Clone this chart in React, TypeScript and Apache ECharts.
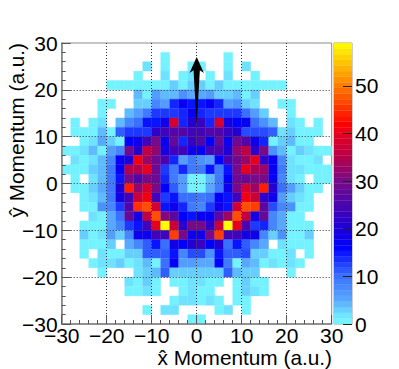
import React, { useEffect, useRef } from "react";
import * as echarts from "echarts";

const xBinLow = [-30,-28,-26,-24,-22,-20,-18,-16,-14,-12,-10,-8,-6,-4,-2,0,2,4,6,8,10,12,14,16,18,20,22,24,26,28];
const yBinLowTopDown = [28,26,24,22,20,18,16,14,12,10,8,6,4,2,0,-2,-4,-6,-8,-10,-12,-14,-16,-18,-20,-22,-24,-26,-28,-30];
const counts: number[][] = [
  [0,0,0,0,0,0,0,0,0,0,0,0,0,0,0,0,0,0,0,0,0,0,0,0,0,0,0,0,0,0],
  [0,0,0,0,0,0,0,0,0,0,0,1,0,0,0,0,0,0,1,0,0,0,0,0,0,0,0,0,0,0],
  [0,0,0,0,0,0,0,0,0,2,0,1,0,0,1,1,0,0,1,0,2,0,0,0,0,0,0,0,0,0],
  [0,0,0,0,0,0,0,0,1,0,0,2,0,1,2,0,1,0,2,0,0,1,0,0,0,0,0,0,0,0],
  [0,0,0,0,0,1,1,1,1,1,1,1,3,1,3,3,1,3,1,1,1,1,1,1,1,0,0,0,0,0],
  [0,0,0,0,0,0,0,0,4,1,6,4,4,7,5,5,6,3,3,4,1,3,0,0,0,0,0,0,0,0],
  [0,0,0,0,1,1,0,0,3,3,8,6,14,17,15,15,17,14,6,7,3,2,0,0,1,1,0,0,0,0],
  [0,0,0,0,1,0,0,4,6,9,13,13,13,14,17,14,13,13,13,13,10,6,3,0,0,1,0,0,0,0],
  [0,1,0,1,2,0,4,8,10,15,15,18,38,14,21,23,14,38,19,16,17,10,7,4,0,2,1,0,1,0],
  [0,1,1,1,4,1,11,13,13,13,22,24,26,26,24,24,26,26,23,21,12,12,12,11,2,3,1,1,1,0],
  [0,0,1,2,5,3,1,16,18,24,30,18,28,14,23,26,16,28,18,29,26,18,14,1,3,4,1,1,0,0],
  [1,1,2,4,1,6,8,29,21,36,32,19,24,24,18,16,24,25,20,32,36,22,30,7,4,1,3,2,1,1],
  [0,2,1,2,4,8,17,20,41,33,29,25,14,6,9,7,6,16,25,29,33,40,22,17,8,2,1,1,2,0],
  [1,1,1,3,4,9,17,35,35,40,29,13,9,14,9,9,15,9,15,30,40,34,33,17,9,2,2,1,1,1],
  [0,1,0,2,4,9,15,30,26,30,29,14,9,6,1,1,4,9,16,29,28,30,30,17,8,2,1,0,1,1],
  [0,1,1,3,5,9,20,44,32,38,30,16,11,6,1,1,5,9,18,30,38,33,44,21,10,6,3,1,1,0],
  [0,0,1,2,4,9,19,24,37,41,24,13,15,10,10,9,10,16,15,24,41,37,22,18,6,3,2,1,0,0],
  [0,0,1,1,7,8,13,26,45,47,38,15,18,14,9,8,13,18,15,38,47,46,27,12,8,7,1,1,0,0],
  [0,0,0,2,1,5,10,28,19,36,47,31,27,16,15,17,17,27,33,47,36,19,28,8,5,1,1,0,0,0],
  [0,0,1,1,1,5,8,13,15,24,40,59,37,22,30,30,22,37,59,40,25,13,14,8,5,1,1,1,0,0],
  [0,0,3,1,2,6,3,8,18,18,24,24,46,30,18,18,30,46,24,24,19,18,8,3,7,1,1,3,0,0],
  [0,0,1,1,1,3,0,5,8,11,15,10,19,16,21,23,16,21,10,15,11,8,5,0,2,1,1,1,0,0],
  [0,0,1,0,2,1,1,3,3,11,11,11,15,8,12,12,7,15,11,11,12,3,3,1,1,2,0,1,0,0],
  [0,0,0,1,2,2,3,1,2,4,1,10,17,6,6,5,5,16,9,1,5,4,1,2,1,2,1,0,0,0],
  [0,0,0,0,1,0,0,0,2,3,4,11,3,3,3,3,3,3,11,4,3,3,0,0,0,1,0,0,0,0],
  [0,0,0,0,0,0,0,2,1,3,1,0,1,1,2,2,1,1,0,1,3,1,1,0,0,0,0,0,0,0],
  [0,0,0,0,0,0,0,1,1,2,1,0,0,1,2,1,1,0,0,1,3,2,1,0,0,0,0,0,0,0],
  [0,0,0,0,0,0,0,0,0,0,0,0,1,2,2,1,2,1,0,1,1,0,0,0,0,0,0,0,0,0],
  [0,0,0,0,0,0,0,0,0,1,0,2,2,0,0,0,0,1,2,0,1,0,0,0,0,0,0,0,0,0],
  [0,0,0,0,0,0,0,0,0,0,0,0,0,0,1,1,0,0,0,0,0,0,0,0,0,0,0,0,0,0],
];
const colorStops: [number, string][] = [
  [0, "#74f2ff"], [1.2, "#74f2ff"], [5, "#58a8ff"], [10, "#3a70ff"], [16, "#0000ff"], [20, "#1c00d8"],
  [30, "#780a88"], [36, "#c00040"], [40, "#e60020"], [42, "#ff0000"], [50, "#ff7c00"], [59, "#ffff00"],
];
const arrowPolygon: [number, number][] = [
  [0, 27], [1.6, 23.6], [0.7, 24.2], [0, 12.5], [-0.7, 24.2], [-1.6, 23.6],
];
const colorbarMax = 59;
const colorbarBins = 50;

const FONT = "Liberation Sans";
const minusLabel = (v: number) => String(v).replace("-", "\u2212");

function App() {
  const ref = useRef<HTMLDivElement>(null);
  useEffect(() => {
    const chart = echarts.init(ref.current!, undefined, { renderer: "svg" });
    const cells: number[][] = [];
    counts.forEach((row, j) =>
      row.forEach((v, i) => {
        if (v > 0) cells.push([xBinLow[i], yBinLowTopDown[j], v]);
      })
    );
    const barWidth = colorbarMax / colorbarBins;
    const barData = Array.from({ length: colorbarBins }, (_, k) => [0, k * barWidth, (k + 0.5) * barWidth]);
    const band = (w: number, h: number) => (_: any, api: any) => {
      const x0 = api.value(0), y0 = api.value(1);
      const a = api.coord([x0, y0 + h]);
      const b = api.coord([x0 + w, y0]);
      const color = api.visual("color");
      return {
        type: "rect",
        shape: { x: a[0], y: a[1], width: b[0] - a[0], height: b[1] - a[1] },
        style: { fill: color, stroke: color, lineWidth: 0.3 },
      };
    };
    const axisLabel = { fontFamily: FONT, fontSize: 21, color: "#000" };
    const mainAxis = {
      type: "value", gridIndex: 0, min: -30, max: 30, interval: 10, z: 5,
      axisLine: { show: true, onZero: false, lineStyle: { color: "#808080", width: 1.5 } },
      axisTick: { show: true, inside: true, length: 9, lineStyle: { color: "#555" } },
      minorTick: { show: true, splitNumber: 5, length: 4, lineStyle: { color: "#555" } },
      splitLine: { show: true, showMinLine: false, showMaxLine: false, lineStyle: { color: "#333", type: [1, 2], width: 1 } },
    };
    chart.setOption({
      animation: false,
      backgroundColor: "#fff",
      grid: [
        { left: 61.7, top: 43, width: 270, height: 281, show: true, borderColor: "#8a8a8a", borderWidth: 1, backgroundColor: "transparent" },
        { left: 334, top: 43, width: 18, height: 281, show: true, borderColor: "#9a9a9a", borderWidth: 1 },
      ],
      xAxis: [
        {
          ...mainAxis,
          position: "bottom",
          axisLabel: { ...axisLabel, margin: 1, formatter: minusLabel, showMinLabel: true, showMaxLabel: true },
        },
        { type: "value", gridIndex: 1, min: 0, max: 1, show: false },
      ],
      yAxis: [
        {
          ...mainAxis,
          position: "left",
          axisLabel: { ...axisLabel, margin: 4, formatter: minusLabel },
        },
        {
          type: "value", gridIndex: 1, position: "right", min: 0, max: colorbarMax, interval: 10, z: 5,
          axisLine: { show: false, onZero: false },
          axisTick: { show: true, inside: true, length: 9, lineStyle: { color: "#222" } },
          minorTick: { show: false },
          splitLine: { show: false },
          axisLabel: { ...axisLabel, margin: 3, showMaxLabel: false },
        },
      ],
      visualMap: [
        {
          show: false, type: "continuous", min: 0, max: colorbarMax, dimension: 2, seriesIndex: [0, 1],
          inRange: {
            color: Array.from({ length: colorbarMax + 1 }, (_, v) => {
              let k = 0;
              while (k < colorStops.length - 2 && v > colorStops[k + 1][0]) k++;
              const [v0, c0] = colorStops[k];
              const [v1, c1] = colorStops[k + 1];
              const t = (v - v0) / (v1 - v0);
              const p = (c: string, s: number) => parseInt(c.slice(s, s + 2), 16);
              const mix = (s: number) => Math.round(p(c0, s) + (p(c1, s) - p(c0, s)) * t);
              return `rgb(${mix(1)},${mix(3)},${mix(5)})`;
            }),
          },
        },
      ],
      series: [
        { type: "custom", xAxisIndex: 0, yAxisIndex: 0, z: 2, data: cells, encode: { x: 0, y: 1 }, renderItem: band(2, 2), clip: true, silent: true },
        { type: "custom", xAxisIndex: 1, yAxisIndex: 1, z: 2, data: barData, encode: { y: 1 }, renderItem: band(1, barWidth), clip: true, silent: true },
        {
          type: "custom", xAxisIndex: 0, yAxisIndex: 0, z: 8, silent: true,
          data: [[0, 0]],
          renderItem: (_: any, api: any) => ({
            type: "polygon",
            shape: { points: arrowPolygon.map((p) => api.coord(p)) },
            style: { fill: "#000" },
          }),
        },
      ],
      graphic: [
        {
          type: "text", right: 399 - 332, top: 347, z: 20,
          style: { text: "x\u0302 Momentum (a.u.)", font: `20.8px ${FONT}`, fill: "#000" },
        },
        {
          type: "text", x: 16, y: 43, rotation: Math.PI / 2, z: 20, originX: 0, originY: 0,
          style: { text: "y\u0302 Momentum (a.u.)", font: `20.8px ${FONT}`, fill: "#000", align: "right", verticalAlign: "middle" },
        },
      ],
    });
    return () => chart.dispose();
  }, []);
  return <div ref={ref} style={{ position: "fixed", left: 0, top: 0, width: 399, height: 369 }} />;
}

export default App;
